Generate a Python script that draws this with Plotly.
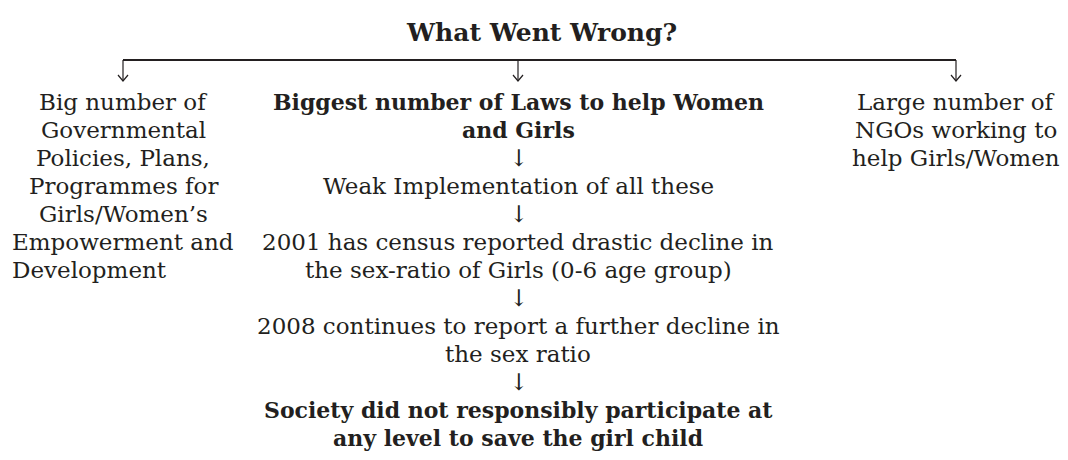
import plotly.graph_objects as go

title = "What Went Wrong?"
left_lines = ["Big number of", "Governmental", "Policies, Plans,", "Programmes for",
              "Girls/Women’s", "Empowerment and", "Development"]
right_lines = ["Large number of", "NGOs working to", "help Girls/Women"]
center_lines = ["Biggest number of Laws to help Women", "and Girls", "↓",
                "Weak Implementation of all these", "↓",
                "2001 has census reported drastic decline in",
                "the sex-ratio of Girls (0-6 age group)", "↓",
                "2008 continues to report a further decline in", "the sex ratio", "↓",
                "Society did not responsibly participate at",
                "any level to save the girl child"]
center_bold = [True, True, False, False, False, False, False, False, False, False, False, True, True]

FONT = "DejaVu Serif"
SIZE = 23
BSIZE = 22
COLOR = "#231f20"
top_y = 102
step = 28
xl, xc, xr = 123, 518, 956
bar_y = 60
tip_y = 81

fig = go.Figure()
ann = []
ann.append(dict(x=541, y=32, text="<b>" + title + "</b>", size=25))
for i, t in enumerate(left_lines):
    if i == len(left_lines) - 1:
        ann.append(dict(x=10, y=top_y + i * step, text=t, xanchor="left"))
    else:
        ann.append(dict(x=xl, y=top_y + i * step, text=t))
for i, t in enumerate(right_lines):
    ann.append(dict(x=xr, y=top_y + i * step, text=t))
for i, (t, b) in enumerate(zip(center_lines, center_bold)):
    if b:
        ann.append(dict(x=xc, y=top_y + i * step, text="<b>" + t + "</b>", size=BSIZE))
    else:
        ann.append(dict(x=xc, y=top_y + i * step, text=t))

final = []
for a in ann:
    final.append(dict(xref="x", yref="y", showarrow=False, x=a["x"], y=a["y"], text=a["text"],
                      xanchor=a.get("xanchor", "center"), yanchor="middle",
                      font=dict(family=FONT, size=a.get("size", SIZE), color=COLOR)))

shapes = [dict(type="line", x0=xl, x1=xr, y0=bar_y, y1=bar_y, line=dict(color=COLOR, width=2))]
for x in (xl, xc, xr):
    shapes.append(dict(type="line", x0=x, x1=x, y0=bar_y, y1=tip_y, line=dict(color=COLOR, width=1.2)))
    shapes.append(dict(type="path", path=f"M {x-5},{tip_y-6} L {x},{tip_y} L {x+5},{tip_y-6}",
                       line=dict(color=COLOR, width=1.2)))

fig.update_layout(
    width=1068, height=460, margin=dict(l=0, r=0, t=0, b=0),
    paper_bgcolor="white", plot_bgcolor="white",
    xaxis=dict(range=[8, 1076], visible=False, fixedrange=True),
    yaxis=dict(range=[468, 8], visible=False, fixedrange=True),
    annotations=final, shapes=shapes, showlegend=False,
)
fig.write_html("out.html")
